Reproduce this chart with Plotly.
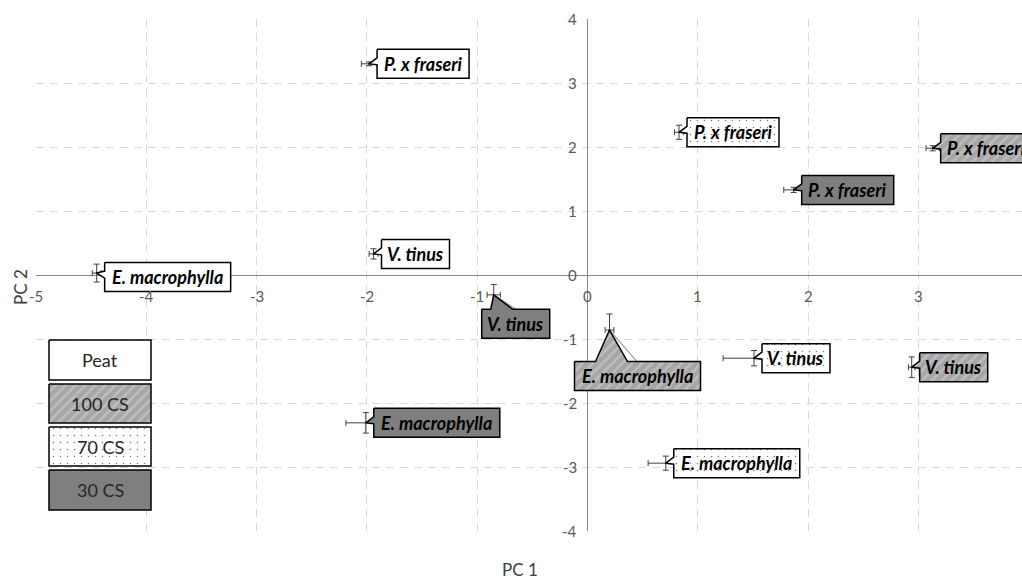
import plotly.graph_objects as go

# ---- data -------------------------------------------------------------
species = ["P. x fraseri", "V. tinus", "E. macrophylla"]
treatments = ["Peat", "100 CS", "70 CS", "30 CS"]

pc1 = {
    "Peat":   [-1.98, -1.94, -4.45],
    "100 CS": [3.13, 2.94, 0.20],
    "70 CS":  [0.83, 1.51, 0.71],
    "30 CS":  [1.87, -0.85, -2.01],
}
pc2 = {
    "Peat":   [3.30, 0.33, 0.03],
    "100 CS": [1.98, -1.44, -0.86],
    "70 CS":  [2.23, -1.30, -2.94],
    "30 CS":  [1.33, -0.31, -2.31],
}
err_pc1 = {
    "Peat":   [0.07, 0.04, 0.04],
    "100 CS": [0.06, 0.03, 0.04],
    "70 CS":  [0.04, 0.28, 0.16],
    "30 CS":  [0.09, 0.06, 0.18],
}
err_pc2 = {
    "Peat":   [0.03, 0.08, 0.14],
    "100 CS": [0.04, 0.16, 0.25],
    "70 CS":  [0.11, 0.12, 0.11],
    "30 CS":  [0.04, 0.16, 0.16],
}

x_ticks = [-5, -4, -3, -2, -1, 0, 1, 2, 3]
y_ticks = [-4, -3, -2, -1, 0, 1, 2, 3, 4]

# ---- geometry ---------------------------------------------------------
W, H = 1022, 580
ML, MR, MT, MB = 36, 0, 19, 49
X0, X1 = -5, 3.94
Y0, Y1 = -4, 4
PXX = (W - ML - MR) / (X1 - X0)   # pixels per PC1 unit
PXY = (H - MT - MB) / (Y1 - Y0)   # pixels per PC2 unit

FONT = "Lato"
TICK_COL = "#595959"

styles = {
    "Peat":   dict(fill="#ffffff", pattern=None),
    "100 CS": dict(fill="#a6a6a6", pattern=dict(shape="/", bgcolor="#a6a6a6",
                                                 fgcolor="#d6d6d6", size=7, solidity=0.35)),
    "70 CS":  dict(fill="#ffffff", pattern=dict(shape=".", bgcolor="#ffffff",
                                                 fgcolor="#000000", size=7, solidity=0.04)),
    "30 CS":  dict(fill="#7f7f7f", pattern=None),
}

box_w = {"P. x fraseri": 92, "V. tinus": 68, "E. macrophylla": 126}
BOX_H = 29

# callouts placed below their point (pixel offsets: box centre, wedge base, leader end)
below = {
    ("30 CS", "V. tinus"): dict(cx=22, cy=29, b0=-3, b1=19, lead=(23, 15)),
    ("100 CS", "E. macrophylla"): dict(cx=28, cy=46, b0=-14, b1=18, lead=(28, 32)),
}
# vertical nudges for side callouts
nudge = {("Peat", "E. macrophylla"): 4}


def to_data(x, y, dxp, dyp):
    return x + dxp / PXX, y - dyp / PXY


def to_paper(px, py):
    return (px - ML) / (W - ML - MR), (H - MB - py) / (H - MT - MB)


def callout(x, y, w, t, s):
    """Polygon (pixel offsets from the point) for a wedge callout."""
    h = BOX_H
    if (t, s) in below:
        b = below[(t, s)]
        cx, cy = b["cx"], b["cy"]
        top, bot = cy - h / 2, cy + h / 2
        pts = [(cx - w / 2, top), (b["b0"], top), (0, 0), (b["b1"], top),
               (cx + w / 2, top), (cx + w / 2, bot), (cx - w / 2, bot), (cx - w / 2, top)]
        centre = (cx, cy)
    else:
        L = 8
        cy = nudge.get((t, s), 0)
        top, bot = cy - h / 2, cy + h / 2
        pts = [(L, top), (L + w, top), (L + w, bot), (L, bot), (L, cy + 1),
               (0, 0), (L, cy - 6), (L, top)]
        centre = (L + w / 2, cy)
    xs, ys = zip(*[to_data(x, y, px, py) for px, py in pts])
    return list(xs), list(ys), to_data(x, y, *centre)


fig = go.Figure()

# error bars
for t in treatments:
    fig.add_trace(go.Scatter(
        x=pc1[t], y=pc2[t], mode="markers",
        marker=dict(size=2, color="#404040"),
        error_x=dict(type="data", array=err_pc1[t], color="#404040", thickness=1, width=3),
        error_y=dict(type="data", array=err_pc2[t], color="#404040", thickness=1, width=3),
        showlegend=False, hoverinfo="skip"))

# leader lines for detached callouts
for (t, s), b in below.items():
    i = species.index(s)
    x, y = pc1[t][i], pc2[t][i]
    ex, ey = to_data(x, y, *b["lead"])
    fig.add_trace(go.Scatter(x=[x, ex], y=[y, ey], mode="lines",
                             line=dict(color="#a0a0a0", width=1.2),
                             showlegend=False, hoverinfo="skip"))

# callout labels
annotations = []
for t in treatments:
    st = styles[t]
    for i, s in enumerate(species):
        xs, ys, (tx, ty) = callout(pc1[t][i], pc2[t][i], box_w[s], t, s)
        kw = dict(fillpattern=st["pattern"]) if st["pattern"] else {}
        fig.add_trace(go.Scatter(
            x=xs, y=ys, mode="lines", fill="toself", fillcolor=st["fill"],
            line=dict(color="#000000", width=1.5), showlegend=False,
            hoverinfo="skip", **kw))
        annotations.append(dict(
            x=tx, y=ty, xref="x", yref="y", text=f"<b><i>{s}</i></b>",
            showarrow=False, font=dict(family=FONT, size=18, color="#000000")))

# legend boxes (pixel space overlay)
leg_x0, leg_x1 = 49, 151
leg_y = [(340, 380), (384, 423), (427, 466), (470, 510)]
for t, (y0, y1) in zip(treatments, leg_y):
    st = styles[t]
    kw = dict(fillpattern=st["pattern"]) if st["pattern"] else {}
    fig.add_trace(go.Scatter(
        x=[leg_x0, leg_x1, leg_x1, leg_x0, leg_x0], y=[y0, y0, y1, y1, y0],
        xaxis="x2", yaxis="y2", mode="lines", fill="toself", fillcolor=st["fill"],
        line=dict(color="#000000", width=1.5), showlegend=False, hoverinfo="skip", **kw))
    annotations.append(dict(
        x=(leg_x0 + leg_x1) / 2, y=(y0 + y1) / 2, xref="x2", yref="y2", text=t,
        showarrow=False, font=dict(family=FONT, size=18, color="#262626")))

# tick labels at the axis crossing
for v in x_ticks:
    annotations.append(dict(x=v, y=0, xref="x", yref="y", text=str(v), yshift=-21,
                            showarrow=False, font=dict(family=FONT, size=15, color=TICK_COL)))
for v in y_ticks:
    annotations.append(dict(x=0, y=v, xref="x", yref="y", text=str(v), xshift=-8,
                            xanchor="right", showarrow=False,
                            font=dict(family=FONT, size=15, color=TICK_COL)))

# axis titles
px_, py_ = to_paper(520, 569)
annotations.append(dict(x=px_, y=py_, xref="paper", yref="paper", text="PC 1",
                        xanchor="center", yanchor="middle", showarrow=False,
                        font=dict(family=FONT, size=17, color="#404040")))
px_, py_ = to_paper(20, 287)
annotations.append(dict(x=px_, y=py_, xref="paper", yref="paper", text="PC 2",
                        textangle=-90, xanchor="center", yanchor="middle", showarrow=False,
                        font=dict(family=FONT, size=17, color="#404040")))

grid = dict(showgrid=True, gridcolor="#d9d9d9", griddash="8px,6px", gridwidth=1,
            zeroline=True, zerolinecolor="#868686", zerolinewidth=1,
            showticklabels=False, ticks="", dtick=1, fixedrange=True)

fig.update_layout(
    width=W, height=H,
    margin=dict(l=ML, r=MR, t=MT, b=MB),
    paper_bgcolor="#ffffff", plot_bgcolor="#ffffff",
    xaxis=dict(range=[X0, X1], tick0=0, **grid),
    yaxis=dict(range=[Y0, Y1], tick0=0, **grid),
    xaxis2=dict(overlaying="x", range=[ML, W - MR], visible=False, fixedrange=True),
    yaxis2=dict(overlaying="y", range=[H - MB, MT], visible=False, fixedrange=True),
    annotations=annotations,
    showlegend=False,
)

fig.write_html("out.html")
